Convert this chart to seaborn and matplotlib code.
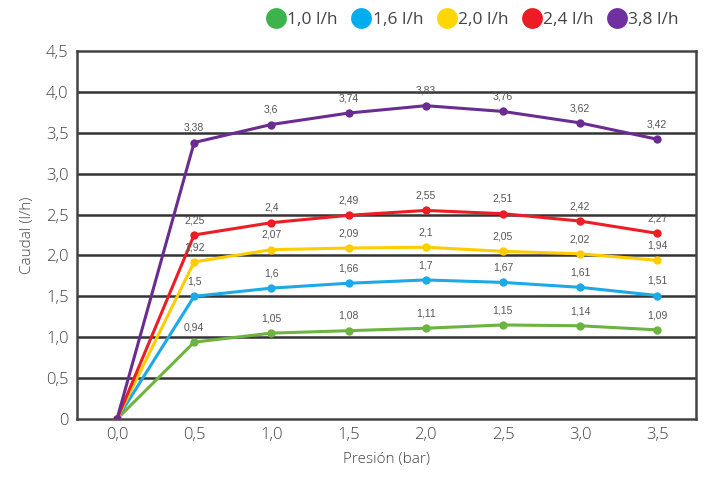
import matplotlib
matplotlib.use("Agg")
import matplotlib.pyplot as plt
from matplotlib.lines import Line2D
import seaborn as sns
import pandas as pd

presion = [0.0, 0.5, 1.0, 1.5, 2.0, 2.5, 3.0, 3.5]
series_names = ["1,0 l/h", "1,6 l/h", "2,0 l/h", "2,4 l/h", "3,8 l/h"]
caudal_10 = [0, 0.94, 1.05, 1.08, 1.11, 1.15, 1.14, 1.09]
caudal_16 = [0, 1.5, 1.6, 1.66, 1.7, 1.67, 1.61, 1.51]
caudal_20 = [0, 1.92, 2.07, 2.09, 2.1, 2.05, 2.02, 1.94]
caudal_24 = [0, 2.25, 2.4, 2.49, 2.55, 2.51, 2.42, 2.27]
caudal_38 = [0, 3.38, 3.6, 3.74, 3.83, 3.76, 3.62, 3.42]
line_colors = ["#6cb33f", "#1ba9e8", "#ffcc00", "#ee1c25", "#6a2c91"]
legend_colors = ["#3cb44b", "#00aeef", "#ffd700", "#ed1c24", "#7030a0"]

all_series = [caudal_10, caudal_16, caudal_20, caudal_24, caudal_38]
rows = []
for name, vals in zip(series_names, all_series):
    for p, v in zip(presion, vals):
        rows.append({"Presion": p, "Caudal": v, "Serie": name})
df = pd.DataFrame(rows)

sns.set_style("white")
plt.rcParams['font.family'] = ['Open Sans', 'DejaVu Sans']

fig = plt.figure(figsize=(7.05, 4.8), dpi=100)
ax = fig.add_axes([0.109, 0.127, 0.878, 0.767])

for y in [0.5, 1.0, 1.5, 2.0, 2.5, 3.0, 3.5, 4.0]:
    ax.axhline(y, color="#333333", lw=1.8, zorder=1)

sns.lineplot(data=df, x="Presion", y="Caudal", hue="Serie", palette=line_colors,
             marker="o", markersize=6, markeredgewidth=0, linewidth=2.2,
             legend=False, ax=ax, zorder=3)

for vals in all_series:
    for p, v in zip(presion[1:], vals[1:]):
        ax.annotate(("%g" % v).replace(".", ","), (p, v), xytext=(0, 7),
                    textcoords="offset points", ha="center", va="bottom",
                    fontsize=7.5, color="#555555", family=["Liberation Sans", "DejaVu Sans"],
                    zorder=4)

ax.set_xlim(-0.26, 3.75)
ax.set_ylim(0, 4.5)
ax.set_xticks(presion)
ax.set_xticklabels([("%.1f" % p).replace(".", ",") for p in presion])
yt = [0, 0.5, 1.0, 1.5, 2.0, 2.5, 3.0, 3.5, 4.0, 4.5]
ax.set_yticks(yt)
ax.set_yticklabels(["0"] + [("%.1f" % v).replace(".", ",") for v in yt[1:]])
ax.tick_params(axis="both", labelsize=12, labelcolor="#444444", length=0, pad=6)
for lab in ax.get_xticklabels() + ax.get_yticklabels():
    lab.set_fontweight("light")

for s in ax.spines.values():
    s.set_color("#444444")
    s.set_linewidth(1.8)
    s.set_visible(True)

ax.set_xlabel("Presión (bar)", fontsize=11, color="#444444", labelpad=6, fontweight="light")
ax.set_ylabel("Caudal (l/h)", fontsize=11, color="#444444", labelpad=8, fontweight="light")

handles = [Line2D([0], [0], marker="o", color="none", markerfacecolor=c,
                  markeredgewidth=0, markersize=15) for c in legend_colors]
fig.legend(handles, series_names, loc="center right", bbox_to_anchor=(0.985, 0.958),
           ncol=5, frameon=False, fontsize=12.5, handletextpad=0.0, columnspacing=0.7,
           handlelength=1.3, labelcolor="#444444")

fig.savefig("out.png", dpi=100)
